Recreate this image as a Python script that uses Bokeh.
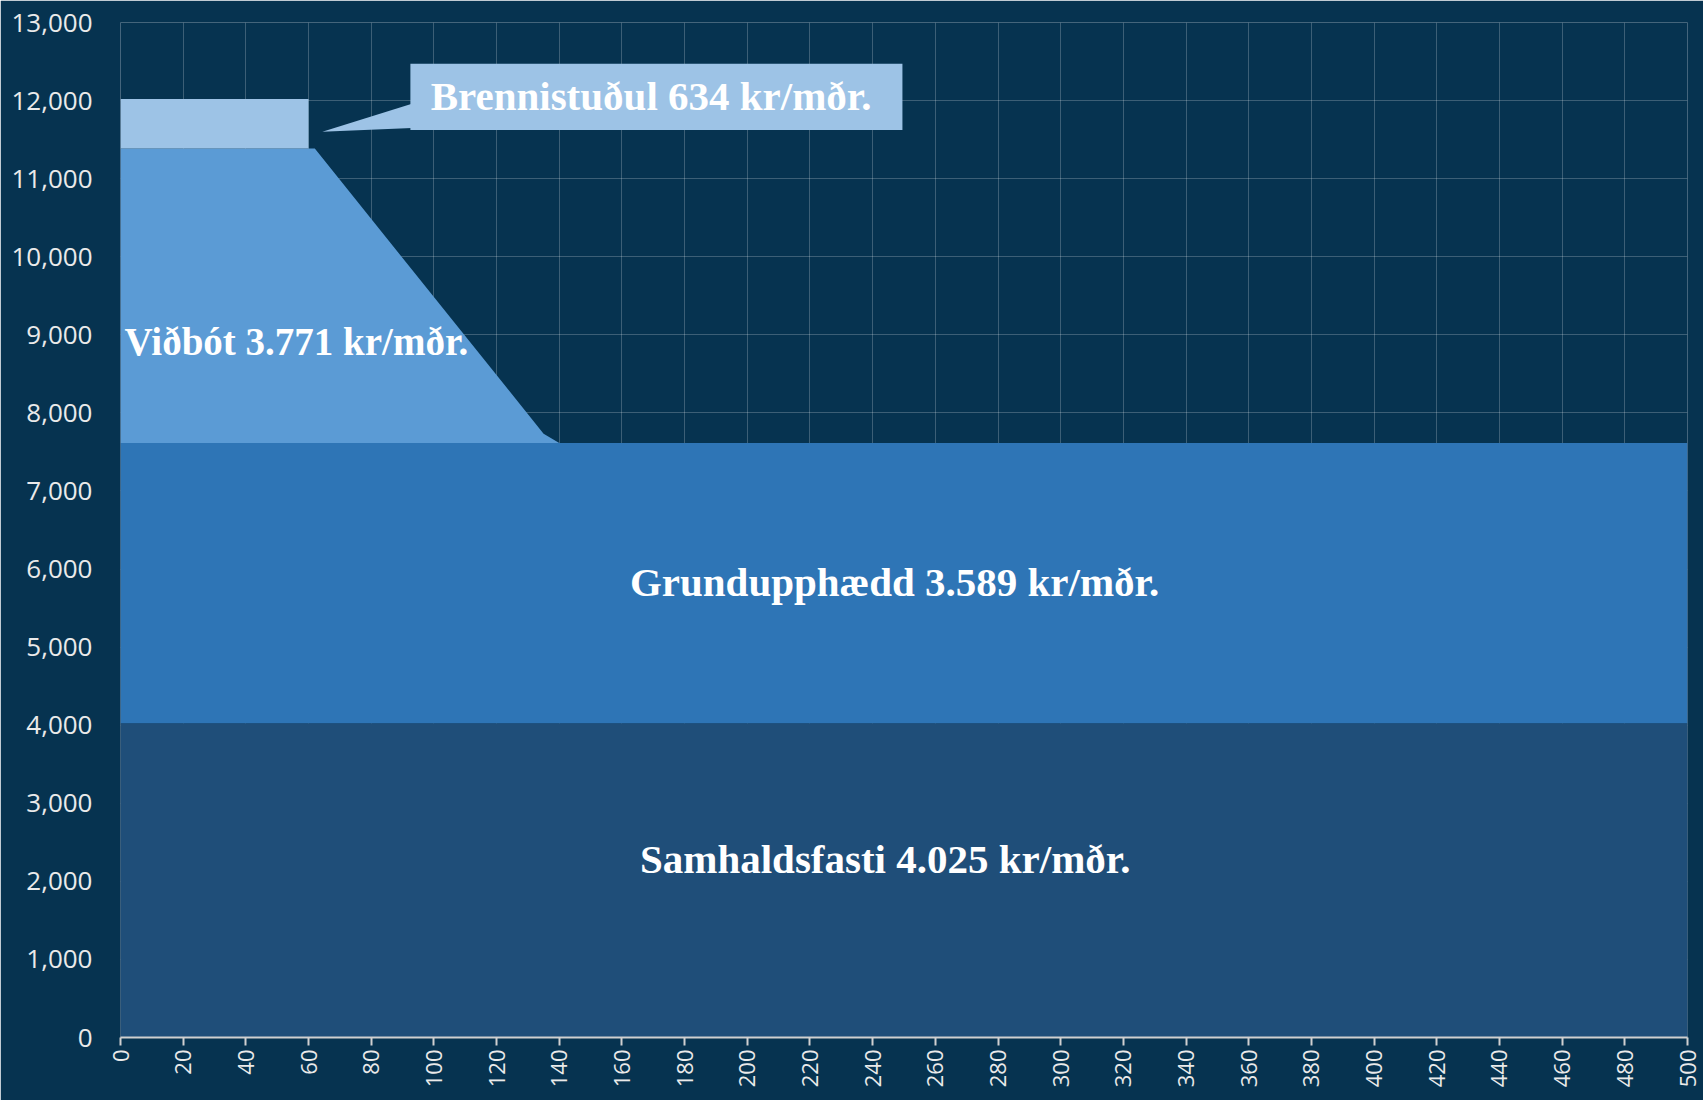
from bokeh.plotting import figure
from bokeh.models import NumeralTickFormatter, FixedTicker, Range1d, Label
from bokeh.embed import file_html
from bokeh.resources import INLINE
import math

# ---- data ----
x_ticks = list(range(0, 501, 20))
y_ticks = list(range(0, 13001, 1000))

samhald_x = [0, 500]
samhald_v = [4025, 4025]

grunn_x = [0, 500]
grunn_v = [3589, 3589]

vidbot_x = [0, 62, 135, 140]
vidbot_v = [3771, 3771, 119, 0]

brenni_x = [0, 60]
brenni_v = [634, 634]

labels = {
    "samhald": "Samhaldsfasti 4.025 kr/mðr.",
    "grunn": "Grundupphædd 3.589 kr/mðr.",
    "vidbot": "Viðbót 3.771 kr/mðr.",
    "brenni": "Brennistuðul 634 kr/mðr.",
}

BG = "#063350"
C_SAM = "#1f4e79"
C_GRU = "#2e75b6"
C_VID = "#5b9bd5"
C_BRE = "#9dc3e6"

p = figure(width=1703, height=1100, output_backend="svg", toolbar_location=None,
           x_range=Range1d(0, 500), y_range=Range1d(0, 13000),
           min_border_left=120, min_border_right=16, min_border_top=22, min_border_bottom=63)
p.background_fill_color = BG
p.border_fill_color = BG
p.outline_line_color = None

# stacked areas
sam_top = samhald_v
p.varea(x=samhald_x, y1=[0] * len(samhald_x), y2=sam_top, fill_color=C_SAM)

gru_base = [samhald_v[0]] * len(grunn_x)
gru_top = [b + v for b, v in zip(gru_base, grunn_v)]
p.varea(x=grunn_x, y1=gru_base, y2=gru_top, fill_color=C_GRU)

vid_base = [gru_top[0]] * len(vidbot_x)
vid_top = [b + v for b, v in zip(vid_base, vidbot_v)]
p.varea(x=vidbot_x, y1=vid_base, y2=vid_top, fill_color=C_VID)

bre_base = [vid_top[0]] * len(brenni_x)
bre_top = [b + v for b, v in zip(bre_base, brenni_v)]
p.varea(x=brenni_x, y1=bre_base, y2=bre_top, fill_color=C_BRE)

# callout
p.patch(x=[64.4, 93, 93], y=[11600, 11960, 11650], fill_color=C_BRE, line_color=None)
p.quad(left=92.5, right=249.5, bottom=11623, top=12471, fill_color=C_BRE, line_color=None)

FONT = "Liberation Serif"
def lab(x, y, text, align="center", size="41px"):
    p.add_layout(Label(x=x, y=y, text=text, text_font=FONT, text_font_style="bold",
                       text_font_size=size, text_color="white", text_align=align,
                       text_baseline="middle"))

lab(244, 2280, labels["samhald"])
lab(247, 5840, labels["grunn"])
lab(1.3, 8920, labels["vidbot"], align="left", size="39px")
lab(169.3, 12054, labels["brenni"])

# grid
p.xgrid.ticker = FixedTicker(ticks=x_ticks)
p.ygrid.ticker = FixedTicker(ticks=y_ticks)
p.grid.grid_line_color = "white"
p.grid.grid_line_alpha = 0.22
p.grid.grid_line_width = 1
p.grid.level = "underlay"

# axes
p.xaxis.ticker = FixedTicker(ticks=x_ticks)
p.yaxis.ticker = FixedTicker(ticks=y_ticks)
p.yaxis.formatter = NumeralTickFormatter(format="0,0")
p.xaxis.major_label_orientation = math.pi / 2
for ax in (p.xaxis, p.yaxis):
    ax.major_label_text_font = "Open Sans"
    ax.major_label_text_color = "#eaeaea"
    ax.minor_tick_line_color = None
p.yaxis.major_label_text_font_size = "26px"
p.xaxis.major_label_text_font_size = "22px"
p.xaxis.axis_line_color = "#d0d0d0"
p.xaxis.axis_line_width = 2
p.xaxis.major_tick_line_color = "#d0d0d0"
p.xaxis.major_tick_line_width = 2
p.xaxis.major_tick_out = 8
p.xaxis.major_tick_in = 0
p.xaxis.major_label_standoff = 4
p.yaxis.axis_line_color = None
p.yaxis.major_tick_line_color = None
p.yaxis.major_label_standoff = 22

open("out.html", "w").write(file_html(p, INLINE))
